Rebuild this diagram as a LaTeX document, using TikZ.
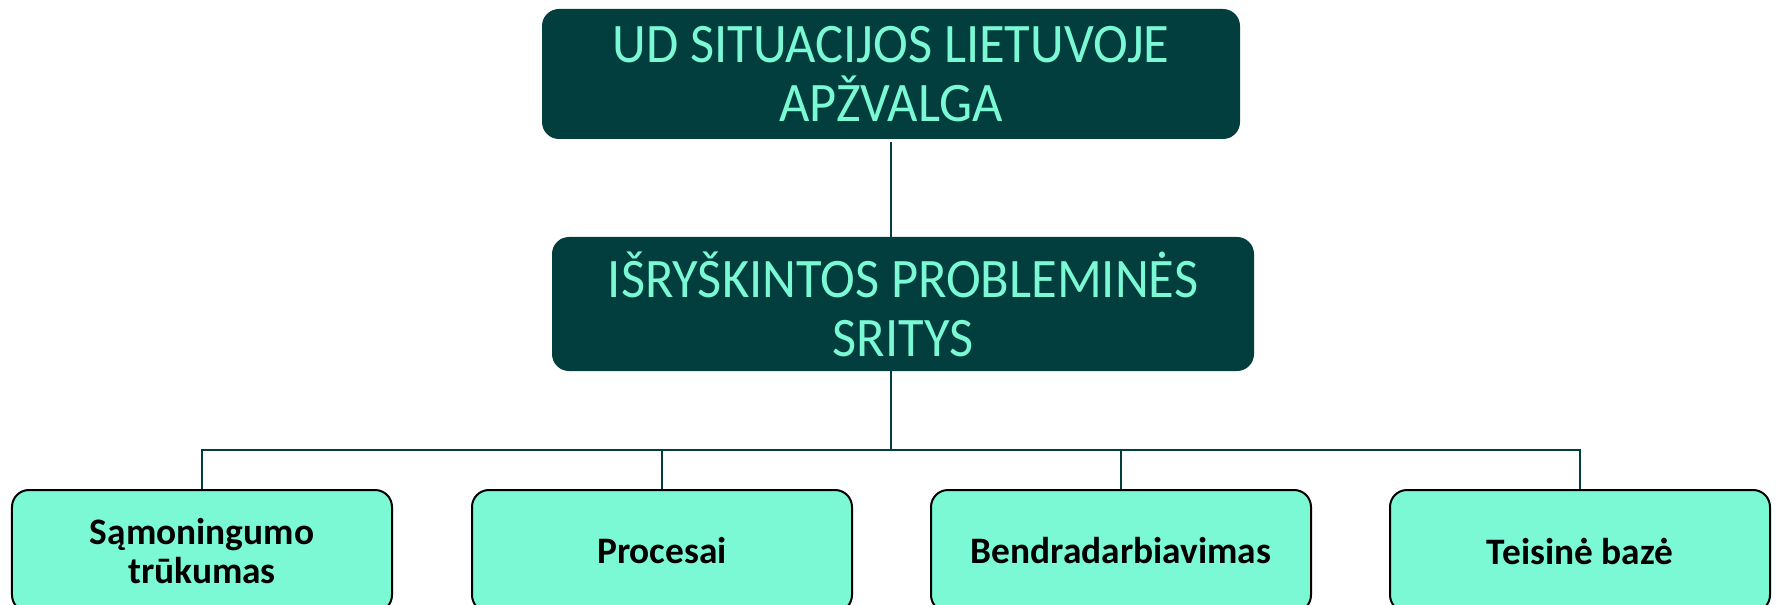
\documentclass[tikz,border=0pt]{standalone}
\usepackage{fontspec}
\setmainfont{Carlito}
\newfontfamily\headfont[FakeStretch=0.94]{Carlito}
\definecolor{darkteal}{RGB}{2,62,61}
\definecolor{mint}{RGB}{123,249,213}
\begin{document}
\begin{tikzpicture}[x=1bp,y=-1bp,
  headbox/.style={draw=none,fill=darkteal,rounded corners=17bp,text=mint,align=center,
    font=\headfont\fontsize{56}{59}\selectfont,inner sep=0pt},
  leafbox/.style={draw=black,line width=2bp,fill=mint,rounded corners=17bp,text=black,align=center,
    font=\fontsize{37.5}{39}\selectfont\bfseries,minimum width=380bp,minimum height=122bp,inner sep=0pt},
  link/.style={draw=darkteal,line width=2bp}]
\useasboundingbox (0,0) rectangle (1778,605);
\node[headbox,minimum width=698bp,minimum height=130bp] (top) at (891,74) {UD SITUACIJOS LIETUVOJE\\APŽVALGA};
\node[headbox,minimum width=702bp,minimum height=134bp] (mid) at (903,304) {IŠRYŠKINTOS PROBLEMINĖS\\SRITYS};
\coordinate (bus) at (891,450);
\node[leafbox] (b1) at (202,551) {Sąmoningumo\\trūkumas};
\node[leafbox] (b2) at (662,551) {Procesai};
\node[leafbox] (b3) at (1121,551) {Bendradarbiavimas};
\node[leafbox] (b4) at (1580,551) {Teisinė bazė};
\draw[link] (top.south) ++(0,3) -- (top.south |- mid.north);
\draw[link] (top.south |- mid.south) -- (bus);
\draw[link] (b1.north) |- (bus) -| (b4.north);
\draw[link] (b2.north) -- (b2.north |- bus);
\draw[link] (b3.north) -- (b3.north |- bus);
\end{tikzpicture}
\end{document}
